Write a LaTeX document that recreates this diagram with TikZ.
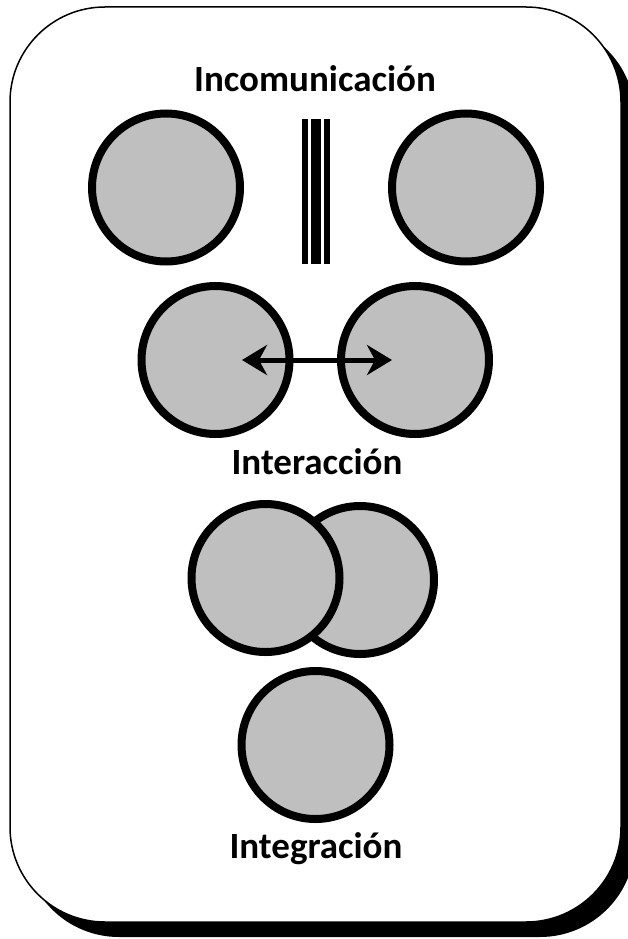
\documentclass[tikz,border=0pt]{standalone}
\usepackage{fontspec}
\setmainfont{Carlito}
\usetikzlibrary{arrows.meta}
\begin{document}
\begin{tikzpicture}[x=1pt,y=-1pt,
  disc/.style={circle,draw=black,fill=discgray,line width=8pt,inner sep=0pt,minimum size=148pt},
  caption/.style={anchor=base,font=\fontsize{37}{42}\selectfont\bfseries},
  bar/.style={fill=black,draw=none}]
\definecolor{discgray}{HTML}{BFBFBF}
\useasboundingbox (0,0) rectangle (627,939);
% shadow and card
\fill[black,rounded corners=95pt] (24,22) rectangle (635,937);
\draw[fill=white,line width=1.5pt,rounded corners=95pt] (10,7) rectangle (621,922);
% Incomunicación
\node[caption] (t1) at (315,92) {Incomunicación};
\node[disc] (a1) at (166,187.5) {};
\node[disc] (a2) at (466,187.5) {};
\fill[bar] (302,119) rectangle (308,264);
\fill[bar] (311,119) rectangle (321,264);
\fill[bar] (324,119) rectangle (330,264);
% Interacción
\node[disc] (b1) at (215.5,360) {};
\node[disc] (b2) at (415,360) {};
\coordinate (bl) at (242,360);
\coordinate (br) at (392,360);
\draw[line width=5pt,{Stealth[length=25pt,width=30pt,inset=8pt]}-{Stealth[length=25pt,width=30pt,inset=8pt]}] (bl) -- (br);
\node[caption] (t2) at (317,474) {Interacción};
% overlap
\node[disc] (c2) at (360,580) {};
\node[disc] (c1) at (265.5,578) {};
% Integración
\node[disc] (d1) at (315.5,745) {};
\node[caption] (t3) at (316,858) {Integración};
\end{tikzpicture}
\end{document}
